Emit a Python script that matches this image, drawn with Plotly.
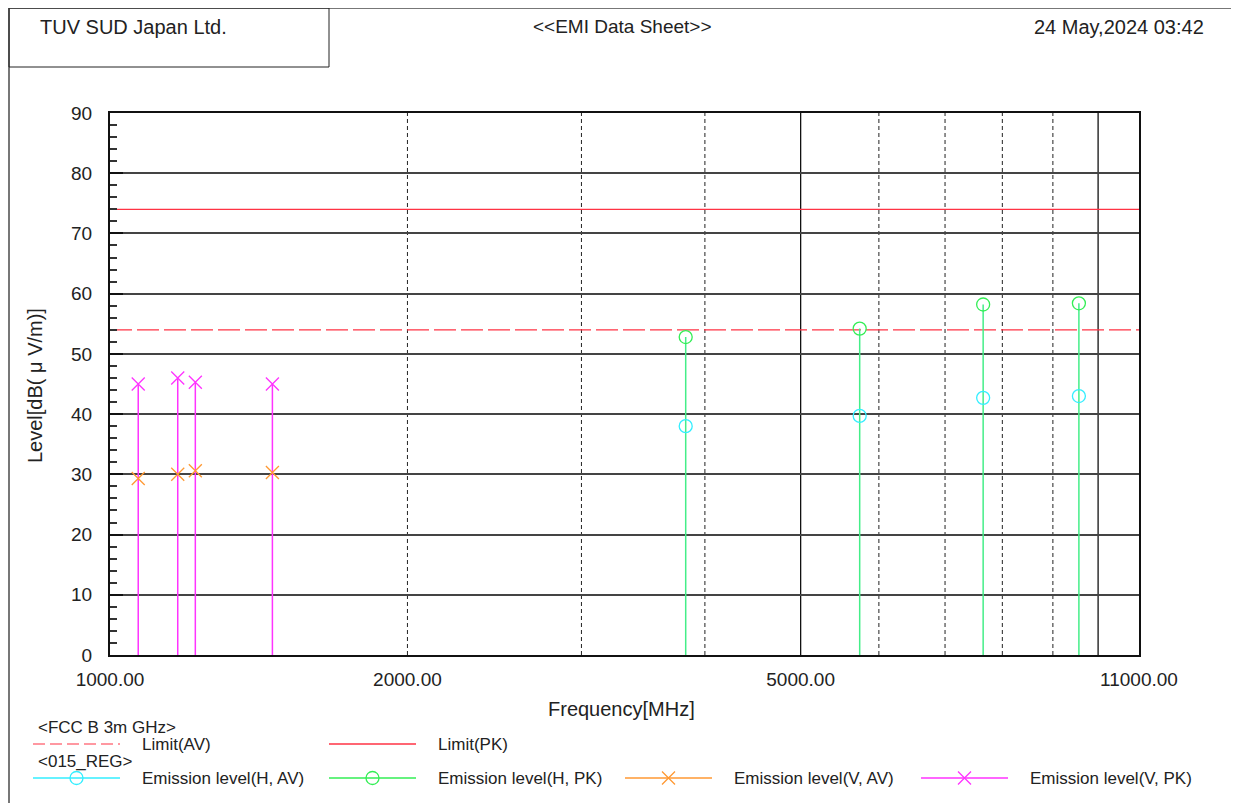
import plotly.graph_objects as go

# ---------------- data ----------------
v_freq = [1068, 1171, 1220, 1460]          # MHz
v_pk = [45.0, 46.0, 45.3, 45.0]
v_av = [29.3, 30.0, 30.6, 30.3]
h_freq = [3825, 5737.5, 7650, 9562.5]      # MHz
h_pk = [52.8, 54.2, 58.2, 58.4]
h_av = [38.0, 39.7, 42.7, 43.0]
limit_pk = 74
limit_av = 54
x_range = [1000, 11000]
x_tickvals = [1000, 2000, 5000, 11000]
x_ticktext = ["1000.00", "2000.00", "5000.00", "11000.00"]
grid_dashed = [2000, 3000, 4000, 6000, 7000, 8000, 9000]
grid_solid = [5000, 10000]
y_ticks = [0, 10, 20, 30, 40, 50, 60, 70, 80, 90]

W, H = 1239, 803
OFF = 8  # page body margin offset
FONT = "Liberation Sans"
C_CYAN = "#33eeff"
C_GREEN = "#33ee55"
C_ORANGE = "#ff9933"
C_MAGENTA = "#ff33ff"
C_RED = "#ff3344"

# plot area in screen pixels
PL, PR, PT, PB = 110, 1139, 113, 655


def px(x):
    return (x - OFF) / W


def py(y):
    return 1 - (y - OFF) / H


fig = go.Figure()


def stems(freqs, levels):
    xs, ys = [], []
    for f, v in zip(freqs, levels):
        xs += [f, f, None]
        ys += [0, v, None]
    return xs, ys


# limit lines
fig.add_trace(go.Scatter(x=x_range, y=[limit_pk, limit_pk], mode="lines",
                         line=dict(color=C_RED, width=1.2), showlegend=False))
fig.add_trace(go.Scatter(x=x_range, y=[limit_av, limit_av], mode="lines",
                         line=dict(color=C_RED, width=1.2, dash="22px,5px"), showlegend=False))

# stems
sx, sy = stems(v_freq, v_pk)
fig.add_trace(go.Scatter(x=sx, y=sy, mode="lines", line=dict(color=C_MAGENTA, width=1.5),
                         showlegend=False, hoverinfo="skip"))
sx, sy = stems(h_freq, h_pk)
fig.add_trace(go.Scatter(x=sx, y=sy, mode="lines", line=dict(color="#44ee88", width=1.5),
                         showlegend=False, hoverinfo="skip"))

# markers
fig.add_trace(go.Scatter(x=h_freq, y=h_av, mode="markers", name="Emission level(H, AV)",
                         marker=dict(symbol="circle-open", size=13, color=C_CYAN, line=dict(width=1.3)),
                         showlegend=False))
fig.add_trace(go.Scatter(x=h_freq, y=h_pk, mode="markers", name="Emission level(H, PK)",
                         marker=dict(symbol="circle-open", size=13, color=C_GREEN, line=dict(width=1.3)),
                         showlegend=False))
fig.add_trace(go.Scatter(x=v_freq, y=v_av, mode="markers", name="Emission level(V, AV)",
                         marker=dict(symbol="x-thin-open", size=13, color=C_ORANGE, line=dict(width=1.3, color=C_ORANGE)),
                         showlegend=False))
fig.add_trace(go.Scatter(x=v_freq, y=v_pk, mode="markers", name="Emission level(V, PK)",
                         marker=dict(symbol="x-thin-open", size=13, color=C_MAGENTA, line=dict(width=1.3, color=C_MAGENTA)),
                         showlegend=False))

# ---------------- legend (overlay pixel axes, screen coords) ----------------
leg_items = [
    (33, 120, 744, C_RED, "dash", None, "Limit(AV)", 140),
    (329, 416, 744, C_RED, "solid", None, "Limit(PK)", 436),
    (33, 120, 778, C_CYAN, "solid", "circle-open", "Emission level(H, AV)", 140),
    (329, 416, 778, C_GREEN, "solid", "circle-open", "Emission level(H, PK)", 436),
    (625, 712, 778, C_ORANGE, "solid", "x-thin-open", "Emission level(V, AV)", 732),
    (921, 1008, 778, C_MAGENTA, "solid", "x-thin-open", "Emission level(V, PK)", 1028),
]
annotations = []
LEG_FONT = dict(family=FONT, size=17, color="#222")
for x0, x1, yy, col, dash, sym, label, tx in leg_items:
    fig.add_trace(go.Scatter(x=[x0 - OFF, x1 - OFF], y=[yy - OFF, yy - OFF], mode="lines",
                             xaxis="x2", yaxis="y2",
                             line=dict(color=col, width=1.3 if dash == "solid" else 1.2,
                                       dash="12px,5px" if dash == "dash" else "solid"),
                             showlegend=False, hoverinfo="skip"))
    if sym:
        fig.add_trace(go.Scatter(x=[(x0 + x1) / 2 - OFF], y=[yy - OFF], mode="markers",
                                 xaxis="x2", yaxis="y2",
                                 marker=dict(symbol=sym, size=13, color=col, line=dict(width=1.3, color=col)),
                                 showlegend=False, hoverinfo="skip"))
    annotations.append(dict(x=px(tx), y=py(yy), xref="paper", yref="paper", text=label,
                            showarrow=False, xanchor="left", yanchor="middle", font=LEG_FONT))

annotations.append(dict(x=px(36), y=py(727), xref="paper", yref="paper", text="&lt;FCC B 3m GHz&gt;",
                        showarrow=False, xanchor="left", yanchor="middle", font=LEG_FONT))
annotations.append(dict(x=px(36), y=py(761), xref="paper", yref="paper", text="&lt;015_REG&gt;",
                        showarrow=False, xanchor="left", yanchor="middle", font=LEG_FONT))

# header texts
annotations.append(dict(x=px(38), y=py(27), xref="paper", yref="paper", text="TUV SUD Japan Ltd.",
                        showarrow=False, xanchor="left", yanchor="middle",
                        font=dict(family=FONT, size=20, color="#222")))
annotations.append(dict(x=px(622), y=py(27), xref="paper", yref="paper", text="&lt;&lt;EMI Data Sheet&gt;&gt;",
                        showarrow=False, xanchor="center", yanchor="middle",
                        font=dict(family=FONT, size=19, color="#222")))
annotations.append(dict(x=px(1206), y=py(27), xref="paper", yref="paper", text="24 May,2024 03:42",
                        showarrow=False, xanchor="right", yanchor="middle",
                        font=dict(family=FONT, size=20, color="#222")))
# axis titles
annotations.append(dict(x=px(621), y=py(709), xref="paper", yref="paper", text="Frequency[MHz]",
                        showarrow=False, xanchor="center", yanchor="middle",
                        font=dict(family=FONT, size=20, color="#222")))
annotations.append(dict(x=px(35), y=py(386), xref="paper", yref="paper", text="Level[dB( μ V/m)]",
                        showarrow=False, xanchor="center", yanchor="middle", textangle=-90,
                        font=dict(family=FONT, size=20, color="#222")))

shapes = []
for g in grid_dashed:
    shapes.append(dict(type="line", xref="x", yref="y", x0=g, x1=g, y0=0, y1=90,
                       line=dict(color="#222", width=1, dash="4px,3px"), layer="below"))
for g in grid_solid:
    shapes.append(dict(type="line", xref="x", yref="y", x0=g, x1=g, y0=0, y1=90,
                       line=dict(color="#111", width=1.3), layer="below"))
# frame
shapes.append(dict(type="line", xref="paper", yref="paper", x0=px(8), x1=1, y0=py(8), y1=py(8),
                   line=dict(color="#777", width=2)))
shapes.append(dict(type="line", xref="paper", yref="paper", x0=px(9), x1=px(9), y0=py(7), y1=0,
                   line=dict(color="#777", width=2)))
shapes.append(dict(type="rect", xref="paper", yref="paper", x0=px(9), x1=px(329), y0=py(8), y1=py(67),
                   line=dict(color="#222", width=1)))

fig.update_layout(
    width=W, height=H,
    margin=dict(l=0, r=0, t=0, b=0, pad=0, autoexpand=False),
    paper_bgcolor="white", plot_bgcolor="rgba(0,0,0,0)",
    showlegend=False,
    xaxis=dict(type="log", domain=[px(PL), px(PR)], range=[3, 4.041392685],
               tickvals=x_tickvals, ticktext=x_ticktext, ticks="", showgrid=False,
               showline=True, linecolor="#111", linewidth=2, mirror=True, zeroline=False,
               automargin=False, ticklabelstandoff=6,
               tickfont=dict(family=FONT, size=19, color="#222")),
    yaxis=dict(domain=[py(PB), py(PT)], range=[0, 90], tickvals=y_ticks,
               ticks="inside", ticklen=13, tickcolor="#111", tickwidth=2,
               minor=dict(dtick=2, ticks="inside", ticklen=7, tickcolor="#333", tickwidth=1.5, showgrid=False),
               showgrid=True, gridcolor="#444", gridwidth=1.5,
               showline=True, linecolor="#111", linewidth=2, mirror=True, zeroline=False,
               automargin=False, ticklabelstandoff=12,
               tickfont=dict(family=FONT, size=19, color="#222")),
    xaxis2=dict(domain=[0, 1], range=[0, W], visible=False, anchor="y2", automargin=False),
    yaxis2=dict(domain=[0, 1], range=[H, 0], visible=False, anchor="x2", automargin=False),
    annotations=annotations,
    shapes=shapes,
)

fig.write_html("out.html", config={"responsive": False})
